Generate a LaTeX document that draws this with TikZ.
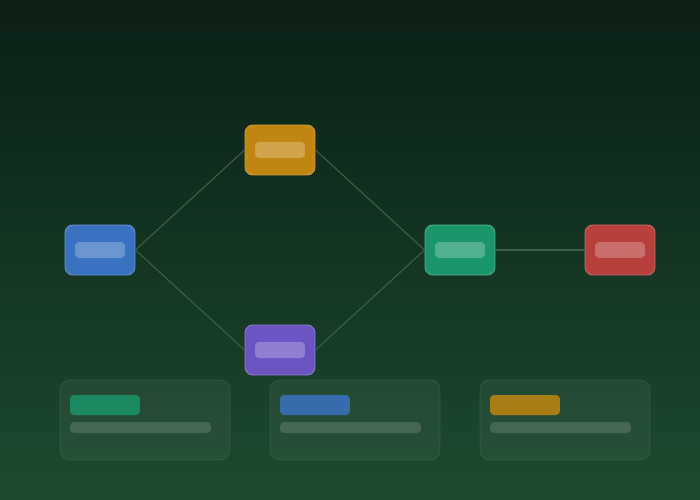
\documentclass[tikz,border=0pt]{standalone}
\usepackage{xcolor}
\usepackage{tikz}
\usetikzlibrary{positioning,calc}

\definecolor{bgtop}{HTML}{0B1E15}
\definecolor{bgbot}{HTML}{1D4A2F}
\definecolor{wire}{HTML}{3E634C}
\definecolor{cblue}{HTML}{3A72C2}
\definecolor{cgold}{HTML}{C18611}
\definecolor{cpurple}{HTML}{6C55C3}
\definecolor{cgreen}{HTML}{1A966A}
\definecolor{cred}{HTML}{B7403D}

\tikzset{
  stage/.style={draw=#1!75!white, line width=0.5pt, fill=#1, rounded corners=4.5pt, minimum width=1.4cm, minimum height=1cm, inner sep=0pt},
  bar/.style={fill=white, fill opacity=0.25, rounded corners=2.3pt, minimum width=1cm, minimum height=0.32cm, inner sep=0pt},
  card/.style={draw=white, draw opacity=0.1, fill=white, fill opacity=0.05, rounded corners=5.7pt, minimum width=3.4cm, minimum height=1.6cm, inner sep=0pt},
  tag/.style={fill=#1, fill opacity=0.85, rounded corners=2.3pt, minimum width=1.4cm, minimum height=0.4cm, inner sep=0pt},
  line/.style={fill=white, fill opacity=0.15, rounded corners=2.3pt, minimum width=2.82cm, minimum height=0.22cm, inner sep=0pt},
  wire/.style={draw=wire, line width=0.6pt}
}

\begin{document}
\begin{tikzpicture}[x=0.02cm, y=-0.02cm]
    % Background
    \shade[top color=bgtop, bottom color=bgbot] (0,0) rectangle (700,500);
    \useasboundingbox (0,0) rectangle (700,500);

    % Flow
    \node[stage=cblue] (A) at (100,250) {};
    \node[stage=cgold] (B) at (280,150) {};
    \node[stage=cpurple] (C) at (280,350) {};
    \node[stage=cgreen] (D) at (460,250) {};
    \node[stage=cred] (E) at (620,250) {};
    \draw[wire] (A.east) -- (B.west);
    \draw[wire] (A.east) -- (C.west);
    \draw[wire] (B.east) -- (D.west);
    \draw[wire] (C.east) -- (D.west);
    \draw[wire] (D.east) -- (E.west);
    \node[bar] (Ab) at (A) {};
    \node[bar] (Bb) at (B) {};
    \node[bar] (Cb) at (C) {};
    \node[bar] (Db) at (D) {};
    \node[bar] (Eb) at (E) {};

    % Legend cards
    \node[card] (K1) at (145,420) {};
    \node[card] (K2) at (355,420) {};
    \node[card] (K3) at (565,420) {};
    \node[tag=cgreen] (T1) at (105,405) {};
    \node[tag=cblue] (T2) at (315,405) {};
    \node[tag=cgold] (T3) at (525,405) {};
    \node[line] (L1) at (140.5,427.5) {};
    \node[line] (L2) at (350.5,427.5) {};
    \node[line] (L3) at (560.5,427.5) {};
\end{tikzpicture}
\end{document}
